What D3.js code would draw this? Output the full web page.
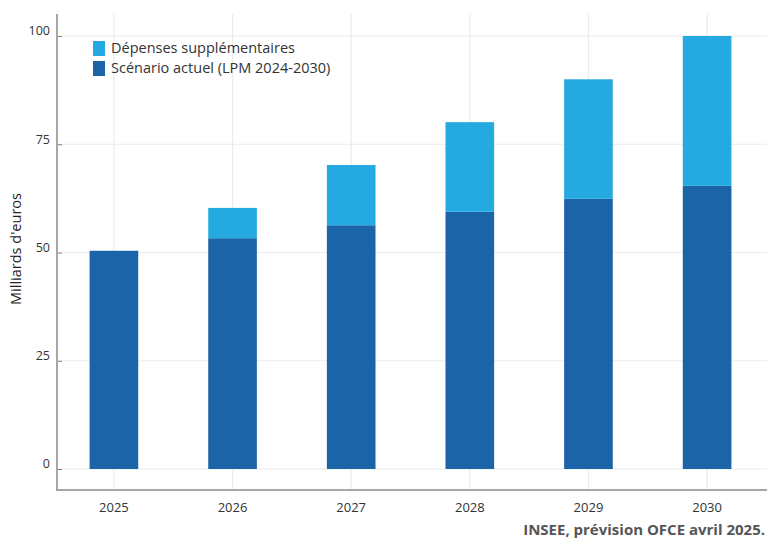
<!DOCTYPE html>
<html><head><meta charset="utf-8">
<script src="https://cdn.jsdelivr.net/npm/d3@7"></script>
<style>body{margin:0;background:#fff;} svg{display:block;font-family:"Open Sans",sans-serif;}</style>
</head><body>
<svg id="c" width="767" height="539"></svg>
<script>
const years = ["2025","2026","2027","2028","2029","2030"];
const actuel = [50.4, 53.3, 56.3, 59.4, 62.4, 65.4];
const supplementaires = [0, 7.0, 13.9, 20.7, 27.6, 34.6];
const yTicks = [0, 25, 50, 75, 100];
const seriesNames = ["Dépenses supplémentaires", "Scénario actuel (LPM 2024-2030)"];
const colors = {sup: "#24a9e1", act: "#1b64a8"};

const svg = d3.select("#c");
const axisX = 57, plotRight = 767, axisBottom = 490, plotTop = 14;
const x = d3.scaleBand().domain(years).range([54, 767]).paddingInner(0.59).paddingOuter(0.3);
const y = d3.scaleLinear().domain([0, 100]).range([469, 36]);

// horizontal gridlines
svg.append("g").selectAll("line").data(yTicks).join("line")
  .attr("x1", axisX + 5).attr("x2", plotRight)
  .attr("y1", d => y(d)).attr("y2", d => y(d))
  .attr("stroke", "#ebebeb").attr("stroke-width", 1.2);
// vertical gridlines
svg.append("g").selectAll("line").data(years).join("line")
  .attr("x1", d => x(d) + x.bandwidth()/2).attr("x2", d => x(d) + x.bandwidth()/2)
  .attr("y1", plotTop).attr("y2", axisBottom)
  .attr("stroke", "#ebebeb").attr("stroke-width", 1.2);

// bars
const data = years.map((yr, i) => ({yr, a: actuel[i], s: supplementaires[i]}));
svg.append("g").selectAll("rect").data(data).join("rect")
  .attr("x", d => x(d.yr)).attr("width", x.bandwidth())
  .attr("y", d => y(d.a)).attr("height", d => y(0) - y(d.a))
  .attr("fill", colors.act);
svg.append("g").selectAll("rect").data(data.filter(d => d.s > 0)).join("rect")
  .attr("x", d => x(d.yr)).attr("width", x.bandwidth())
  .attr("y", d => y(d.a + d.s)).attr("height", d => y(d.a) - y(d.a + d.s))
  .attr("fill", colors.sup);

// y axis
const yAxis = d3.axisLeft(y).tickValues(yTicks).tickSize(0).tickPadding(0);
const gy = svg.append("g").attr("transform", `translate(${axisX},0)`).call(yAxis);
gy.select(".domain").remove();
gy.selectAll(".tick text").attr("x", -7).attr("dy", "-0.1em").attr("font-size", 12.5).attr("fill", "#333")
  .attr("font-family", "'Open Sans',sans-serif");
gy.selectAll(".tick").append("line").attr("x1", 1).attr("x2", 5).attr("y1", 0).attr("y2", 0).attr("stroke", "#777").attr("stroke-width", 1);
svg.append("line").attr("x1", axisX).attr("x2", axisX).attr("y1", plotTop).attr("y2", axisBottom + 1)
  .attr("stroke", "#888").attr("stroke-width", 1.5);

// x axis
const xAxis = d3.axisBottom(x).tickSize(0).tickPadding(0);
const gx = svg.append("g").attr("transform", `translate(0,${axisBottom})`).call(xAxis);
gx.select(".domain").remove();
gx.selectAll(".tick text").attr("y", 22).attr("dy", 0).attr("font-size", 13).attr("fill", "#333")
  .attr("font-family", "'Open Sans',sans-serif");
svg.append("line").attr("x1", axisX).attr("x2", plotRight).attr("y1", axisBottom).attr("y2", axisBottom)
  .attr("stroke", "#888").attr("stroke-width", 1.5);

// y label
svg.append("text").attr("transform", "translate(21,249) rotate(-90)").attr("text-anchor", "middle")
  .attr("font-size", 14.5).attr("fill", "#222").text("Milliards d'euros");

// legend
const leg = svg.append("g").attr("transform", "translate(93,41)");
const legColors = [colors.sup, colors.act];
seriesNames.forEach((n, i) => {
  leg.append("rect").attr("x", 0).attr("y", i*20).attr("width", 12).attr("height", 15).attr("fill", legColors[i]);
  leg.append("text").attr("x", 18).attr("y", i*20 + 12).attr("font-size", 14.5).attr("fill", "#333").text(n);
});

// source
svg.append("text").attr("x", 765).attr("y", 535).attr("text-anchor", "end")
  .attr("font-size", 15).attr("font-weight", "bold").attr("fill", "#555")
  .attr("font-family", "'Open Sans',sans-serif").text("INSEE, prévision OFCE avril 2025.");
</script>
</body></html>
